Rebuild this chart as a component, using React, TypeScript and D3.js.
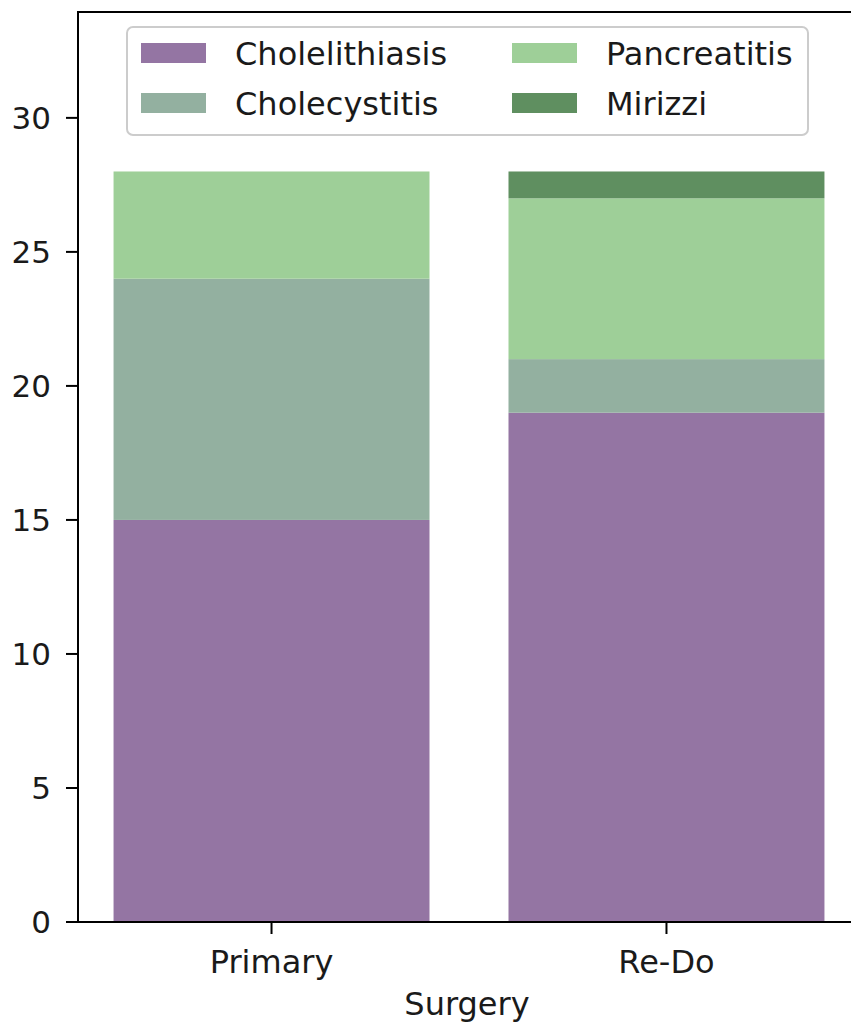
import React from 'react';
import * as d3 from 'd3';

const categories = ['Primary', 'Re-Do'];
const seriesNames = ['Cholelithiasis', 'Cholecystitis', 'Pancreatitis', 'Mirizzi'];
const cholelithiasis = [15, 19];
const cholecystitis = [9, 2];
const pancreatitis = [4, 6];
const mirizzi = [0, 1];
const yTicks = [0, 5, 10, 15, 20, 25, 30];

const colors = ['#9475a3', '#93b0a0', '#9ecf98', '#5f8f60'];

const W = 851;
const H = 1024;
const margin = { top: 12, left: 78, bottom: 922, right: 860 };
const FONT = 'DejaVu Sans, sans-serif';

export default function App() {
  const x = d3.scaleLinear().domain([-0.49, 1.49]).range([margin.left, margin.right]);
  const y = d3.scaleLinear().domain([0, 33.95]).range([margin.bottom, margin.top]);

  const rows = categories.map((c, i) => ({
    cat: c,
    Cholelithiasis: cholelithiasis[i],
    Cholecystitis: cholecystitis[i],
    Pancreatitis: pancreatitis[i],
    Mirizzi: mirizzi[i],
  }));
  const stacked = d3.stack<any>().keys(seriesNames)(rows);

  const barW = x(0.8) - x(0);

  // legend positions
  const legendItems = [
    { name: seriesNames[0], px: 141, ty: 53 },
    { name: seriesNames[1], px: 141, ty: 103 },
    { name: seriesNames[2], px: 512, ty: 53 },
    { name: seriesNames[3], px: 512, ty: 103 },
  ];

  return (
    <svg width={W} height={H} style={{ position: 'absolute', left: 0, top: 0 }} fontFamily={FONT}>
      <rect width={W} height={H} fill="#fff" />
      {stacked.map((s, si) => (
        <g key={s.key} fill={colors[si]}>
          {s.map((d, i) => (
            d[1] - d[0] > 0 ? (
              <rect key={i} x={x(i) - barW / 2} width={barW} y={y(d[1])} height={y(d[0]) - y(d[1])} />
            ) : null
          ))}
        </g>
      ))}
      {/* spines */}
      <rect x={margin.left} y={margin.top} width={margin.right - margin.left} height={margin.bottom - margin.top}
        fill="none" stroke="#000" strokeWidth={2} />
      {/* y axis */}
      {yTicks.map(t => (
        <g key={t}>
          <line x1={margin.left - 12} x2={margin.left} y1={y(t)} y2={y(t)} stroke="#000" strokeWidth={2} />
          <text x={margin.left - 27} y={y(t)} dy="0.36em" textAnchor="end" fontSize={31} fill="#1a1a1a">{t}</text>
        </g>
      ))}
      {/* x axis */}
      {categories.map((c, i) => (
        <g key={c}>
          <line x1={x(i)} x2={x(i)} y1={margin.bottom} y2={margin.bottom + 12} stroke="#000" strokeWidth={2} />
          <text x={x(i)} y={margin.bottom + 51} textAnchor="middle" fontSize={32} fill="#1a1a1a">{c}</text>
        </g>
      ))}
      <text x={(margin.left + margin.right) / 2 - 2} y={1015} textAnchor="middle" fontSize={32} fill="#1a1a1a">Surgery</text>
      {/* legend */}
      <rect x={127} y={27} width={681} height={108} rx={6} fill="#fff" fillOpacity={0.8} stroke="#ccc" strokeWidth={2} />
      {legendItems.map((l, i) => (
        <g key={l.name}>
          <rect x={l.px} y={l.ty - 10} width={65} height={20} fill={colors[i]} />
          <text x={l.px + 94} y={l.ty} dy="0.36em" fontSize={32} fill="#1a1a1a">{l.name}</text>
        </g>
      ))}
    </svg>
  );
}
